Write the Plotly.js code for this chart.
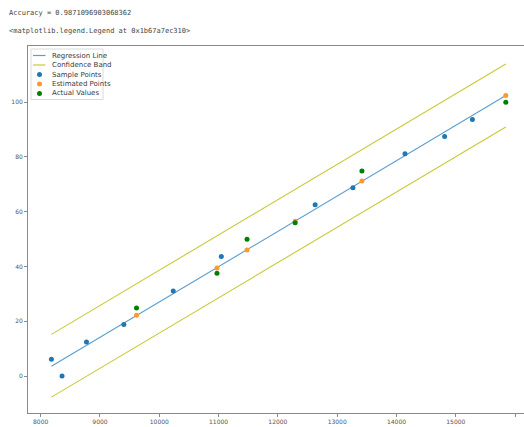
<!DOCTYPE html>
<html>
<head>
<meta charset="utf-8">
<script src="https://cdn.plot.ly/plotly-3.0.1.min.js"></script>
<style>html,body{margin:0;padding:0;background:#fff;}#chart{width:524px;height:427px;}</style>
</head>
<body>
<div id="chart"></div>
<script>
// ---- data ----
const sampleX = [8181, 8360, 8772, 9402, 10235, 11046, 12628, 13265, 14143, 14812, 15280];
const sampleY = [6.1, 0.0, 12.4, 18.8, 31.0, 43.6, 62.5, 68.7, 81.2, 87.5, 93.7];
const testX = [9616, 10973, 11480, 12291, 13417, 15843];
const estimatedY = [22.2, 39.4, 46.0, 56.5, 71.2, 102.4];
const actualY = [24.8, 37.5, 49.9, 56.0, 74.9, 100.0];
const lineX = [8181, 15843];
const regressionY = [3.6, 102.4];
const upperY = [15.2, 113.9];
const lowerY = [-7.7, 90.9];
const xTicks = [8000, 9000, 10000, 11000, 12000, 13000, 14000, 15000, 16000];
const yTicks = [0, 20, 40, 60, 80, 100];
const legendNames = ["Regression Line", "Confidence Band", "Sample Points", "Estimated Points", "Actual Values"];
const accuracyText = "Accuracy = 0.9871096903068362";
const reprText = "<matplotlib.legend.Legend at 0x1b67a7ec310>";

// ---- geometry ----
const W = 524, H = 427, ML = 28, MR = 0, MT = 46, MB = 14;
const pw = W - ML - MR, ph = H - MT - MB;
const px = x => (x - ML) / pw;
const py = y => (H - MB - y) / ph;

const cReg = "#5a9dd0", cBlue = "#1f77b4", cOrange = "#ff9a2a", cGreen = "#008000", cBand = "#c9c93a";

const traces = [
  {x: lineX, y: regressionY, mode: "lines", line: {color: cReg, width: 1.1}, name: legendNames[0]},
  {x: lineX, y: upperY, mode: "lines", line: {color: cBand, width: 1.1}, name: legendNames[1]},
  {x: lineX, y: lowerY, mode: "lines", line: {color: cBand, width: 1.1}, name: legendNames[1]},
  {x: sampleX, y: sampleY, mode: "markers", marker: {color: cBlue, size: 5}, name: legendNames[2]},
  {x: testX, y: estimatedY, mode: "markers", marker: {color: cOrange, size: 5}, name: legendNames[3]},
  {x: testX, y: actualY, mode: "markers", marker: {color: cGreen, size: 5}, name: legendNames[4]}
];

// ---- custom matplotlib-like legend ----
const shapes = [];
const annotations = [];
shapes.push({type: "rect", xref: "paper", yref: "paper", x0: px(31), x1: px(103), y0: py(99.5), y1: py(49),
  line: {color: "#dadada", width: 1}, fillcolor: "rgba(255,255,255,0.85)", layer: "above"});
const entryY = [55.5, 65, 74.5, 84, 93.5];
const entryStyle = [
  {kind: "line", color: cReg},
  {kind: "line", color: cBand},
  {kind: "dot", color: cBlue},
  {kind: "dot", color: cOrange},
  {kind: "dot", color: cGreen}
];
legendNames.forEach((name, i) => {
  const yy = entryY[i];
  const st = entryStyle[i];
  if (st.kind === "line") {
    shapes.push({type: "line", xref: "paper", yref: "paper", x0: px(33), x1: px(45.5), y0: py(yy), y1: py(yy),
      line: {color: st.color, width: 1.2}, layer: "above"});
  } else {
    shapes.push({type: "circle", xref: "paper", yref: "paper", x0: px(37), x1: px(42), y0: py(yy + 2.5), y1: py(yy - 2.5),
      line: {width: 0}, fillcolor: st.color, layer: "above"});
  }
  annotations.push({xref: "paper", yref: "paper", x: px(49.5), y: py(yy), xanchor: "left", yanchor: "middle",
    text: name, showarrow: false, font: {family: "DejaVu Sans", size: 7, color: "#3a3a3a"}});
});

// ---- notebook output text ----
annotations.push({xref: "paper", yref: "paper", x: px(6.5), y: py(12.7), xanchor: "left", yanchor: "middle",
  text: accuracyText, showarrow: false, font: {family: "DejaVu Sans Mono", size: 7, color: "#444"}});
annotations.push({xref: "paper", yref: "paper", x: px(6.5), y: py(30.5), xanchor: "left", yanchor: "middle",
  text: reprText.replace(/</g, "&lt;").replace(/>/g, "&gt;"), showarrow: false,
  font: {family: "DejaVu Sans Mono", size: 7, color: "#444"}});

const axisCommon = {
  showgrid: false, zeroline: false, showline: true, linecolor: "#8a8a8a", linewidth: 1,
  ticks: "outside", ticklen: 3, tickwidth: 1, tickcolor: "#8a8a8a",
  tickfont: {family: "DejaVu Sans", size: 6, color: "#555"}, tickmode: "array"
};

const layout = {
  width: W, height: H,
  margin: {l: ML, r: MR, t: MT, b: MB, pad: 0},
  paper_bgcolor: "#fff", plot_bgcolor: "#fff",
  showlegend: false,
  xaxis: Object.assign({}, axisCommon, {range: [7786, 16150], tickvals: xTicks, ticktext: xTicks.map(String), mirror: true}),
  yaxis: Object.assign({}, axisCommon, {range: [-13.5, 120.5], tickvals: yTicks, ticktext: yTicks.map(String)}),
  shapes: shapes,
  annotations: annotations
};

Plotly.newPlot("chart", traces, layout, {staticPlot: true, displayModeBar: false});
</script>
</body>
</html>
